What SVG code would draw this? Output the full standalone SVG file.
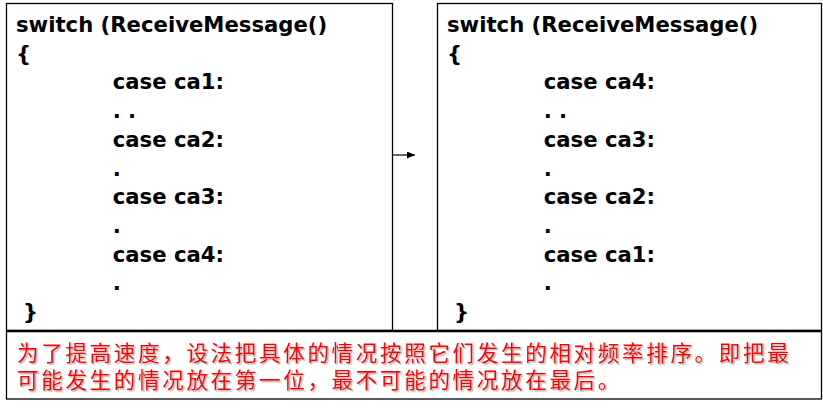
<svg xmlns="http://www.w3.org/2000/svg" width="823" height="411" viewBox="0 0 823 411">
<defs>
<style>
.box{fill:#fff;stroke:#000;stroke-width:1.3}
.code{font-family:"DejaVu Sans","Liberation Sans",sans-serif;font-weight:bold;font-size:21.2px;fill:#000}
.note{font-family:"Noto Sans CJK SC","Noto Sans CJK TC",sans-serif;font-size:21.5px;fill:#ff0000;letter-spacing:2.7px}
.conn{stroke:#000;stroke-width:1.2;fill:none}
</style>
<marker id="arrow" markerWidth="8" markerHeight="7" refX="8" refY="3.5" orient="auto" markerUnits="userSpaceOnUse">
<path d="M0,0 L8,3.5 L0,7 Z" fill="#000"/>
</marker>
<filter id="shadow" x="-5%" y="-20%" width="110%" height="150%">
<feDropShadow dx="1.5" dy="1.5" stdDeviation="0.7" flood-color="#888" flood-opacity="0.6"/>
</filter>
</defs>
<rect width="823" height="411" fill="#fff"/>

<g id="left-switch">
<rect class="box" x="6.5" y="3.5" width="386" height="327"/>
<text class="code" x="16" y="32">switch (ReceiveMessage()</text>
<text class="code" x="16" y="60.7">{</text>
<text class="code" x="112.7" y="89.4">case ca1:</text>
<text class="code" x="112.7" y="118">. .</text>
<text class="code" x="112.7" y="146.8">case ca2:</text>
<text class="code" x="112.7" y="175.5">.</text>
<text class="code" x="112.7" y="204.2">case ca3:</text>
<text class="code" x="112.7" y="232.9">.</text>
<text class="code" x="112.7" y="261.6">case ca4:</text>
<text class="code" x="112.7" y="290.3">.</text>
<text class="code" x="23" y="319">}</text>
</g>

<g id="right-switch">
<rect class="box" x="437.5" y="3.5" width="384" height="327"/>
<text class="code" x="447" y="32">switch (ReceiveMessage()</text>
<text class="code" x="447" y="60.7">{</text>
<text class="code" x="543.7" y="89.4">case ca4:</text>
<text class="code" x="543.7" y="118">. .</text>
<text class="code" x="543.7" y="146.8">case ca3:</text>
<text class="code" x="543.7" y="175.5">.</text>
<text class="code" x="543.7" y="204.2">case ca2:</text>
<text class="code" x="543.7" y="232.9">.</text>
<text class="code" x="543.7" y="261.6">case ca1:</text>
<text class="code" x="543.7" y="290.3">.</text>
<text class="code" x="454" y="319">}</text>
</g>

<g id="note">
<rect class="box" x="6.5" y="331" width="815" height="68"/>
<line x1="6" y1="331" x2="822" y2="331" stroke="#000" stroke-width="2.5"/>
<text class="note" filter="url(#shadow)"><tspan x="17" y="361">为了提高速度，设法把具体的情况按照它们发生的相对频率排序。即把最</tspan><tspan x="17" y="388">可能发生的情况放在第一位，最不可能的情况放在最后。</tspan></text>
</g>

<g id="connectors">
<line class="conn" x1="393" y1="155" x2="415" y2="155" marker-end="url(#arrow)"/>
</g>
</svg>
